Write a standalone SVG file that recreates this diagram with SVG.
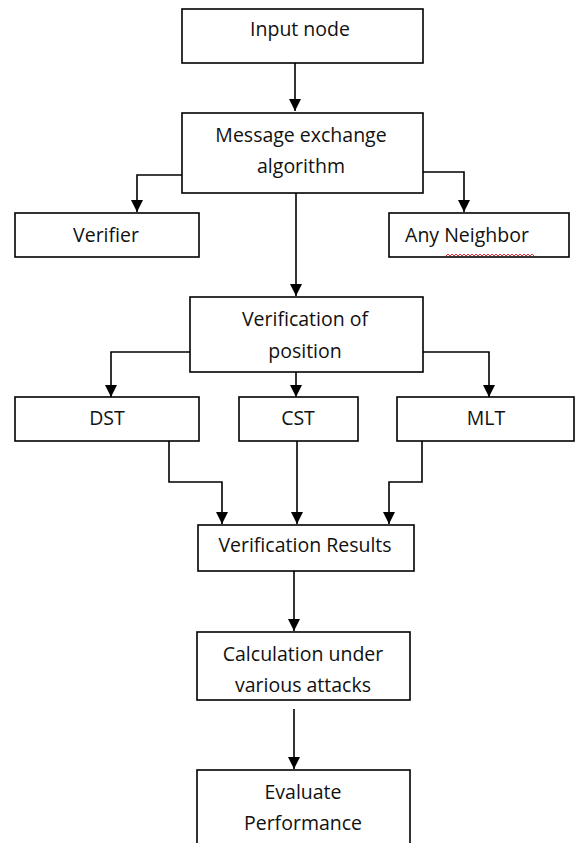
<svg xmlns="http://www.w3.org/2000/svg" width="575" height="843" viewBox="0 0 575 843">
<style>
.box{fill:#fff;stroke:#000;stroke-width:1.6}
.t{font-family:"Open Sans","Liberation Sans",sans-serif;font-size:19.5px;fill:#111;text-anchor:middle}
.c{fill:none;stroke:#000;stroke-width:1.6}
</style>
<defs>
<marker id="ah" markerWidth="12" markerHeight="13" refX="10" refY="5" orient="auto" markerUnits="userSpaceOnUse" viewBox="0 0 10 10">
<path d="M0,0 L10,5 L0,10 z" fill="#000"/>
</marker>
</defs>
<rect width="575" height="843" fill="#fff"/>
<g id="connectors">
<path class="c" d="M295,63 V111" marker-end="url(#ah)"/>
<path class="c" d="M182,175 H137 V212" marker-end="url(#ah)"/>
<path class="c" d="M423,172 H464 V212" marker-end="url(#ah)"/>
<path class="c" d="M296,193 V296" marker-end="url(#ah)"/>
<path class="c" d="M190,352 H111 V397" marker-end="url(#ah)"/>
<path class="c" d="M296,372 V397" marker-end="url(#ah)"/>
<path class="c" d="M423,352 H489 V397" marker-end="url(#ah)"/>
<path class="c" d="M169,441 V482 H222 V524" marker-end="url(#ah)"/>
<path class="c" d="M297,441 V524" marker-end="url(#ah)"/>
<path class="c" d="M422,441 V482 H389 V524" marker-end="url(#ah)"/>
<path class="c" d="M294,571 V631" marker-end="url(#ah)"/>
<path class="c" d="M294,709 V769" marker-end="url(#ah)"/>
</g>
<g id="input-node">
<rect class="box" x="182" y="9" width="241" height="54"/>
<text class="t" x="300" y="36">Input node</text>
</g>
<g id="message-exchange">
<rect class="box" x="182" y="113" width="241" height="80"/>
<text class="t" x="301" y="142">Message exchange</text>
<text class="t" x="301" y="173">algorithm</text>
</g>
<g id="verifier">
<rect class="box" x="15" y="213" width="184" height="44"/>
<text class="t" x="106" y="242">Verifier</text>
</g>
<g id="any-neighbor">
<rect class="box" x="389" y="213" width="180" height="44"/>
<text class="t" x="467" y="242">Any Neighbor</text>
<path d="M446,256 l2,-2 l2,2 l2,-2 l2,2 l2,-2 l2,2 l2,-2 l2,2 l2,-2 l2,2 l2,-2 l2,2 l2,-2 l2,2 l2,-2 l2,2 l2,-2 l2,2 l2,-2 l2,2 l2,-2 l2,2 l2,-2 l2,2 l2,-2 l2,2 l2,-2 l2,2 l2,-2 l2,2 l2,-2 l2,2 l2,-2 l2,2 l2,-2 l2,2 l2,-2 l2,2 l2,-2 l2,2 l2,-2 l2,2 l2,-2 l2,2" fill="none" stroke="#e03030" stroke-width="1"/>
</g>
<g id="verification-of-position">
<rect class="box" x="190" y="297" width="233" height="75"/>
<text class="t" x="305" y="326">Verification of</text>
<text class="t" x="305" y="358">position</text>
</g>
<g id="dst">
<rect class="box" x="15" y="397" width="184" height="44"/>
<text class="t" x="107" y="425">DST</text>
</g>
<g id="cst">
<rect class="box" x="239" y="397" width="119" height="44"/>
<text class="t" x="298" y="425">CST</text>
</g>
<g id="mlt">
<rect class="box" x="397" y="397" width="177" height="44"/>
<text class="t" x="486" y="425">MLT</text>
</g>
<g id="verification-results">
<rect class="box" x="198" y="525" width="216" height="46"/>
<text class="t" x="305" y="552">Verification Results</text>
</g>
<g id="calculation">
<rect class="box" x="197" y="632" width="213" height="68"/>
<text class="t" x="303" y="661">Calculation under</text>
<text class="t" x="303" y="692">various attacks</text>
</g>
<g id="evaluate">
<rect class="box" x="197" y="770" width="213" height="80"/>
<text class="t" x="303" y="799">Evaluate</text>
<text class="t" x="303" y="830">Performance</text>
</g>
</svg>
